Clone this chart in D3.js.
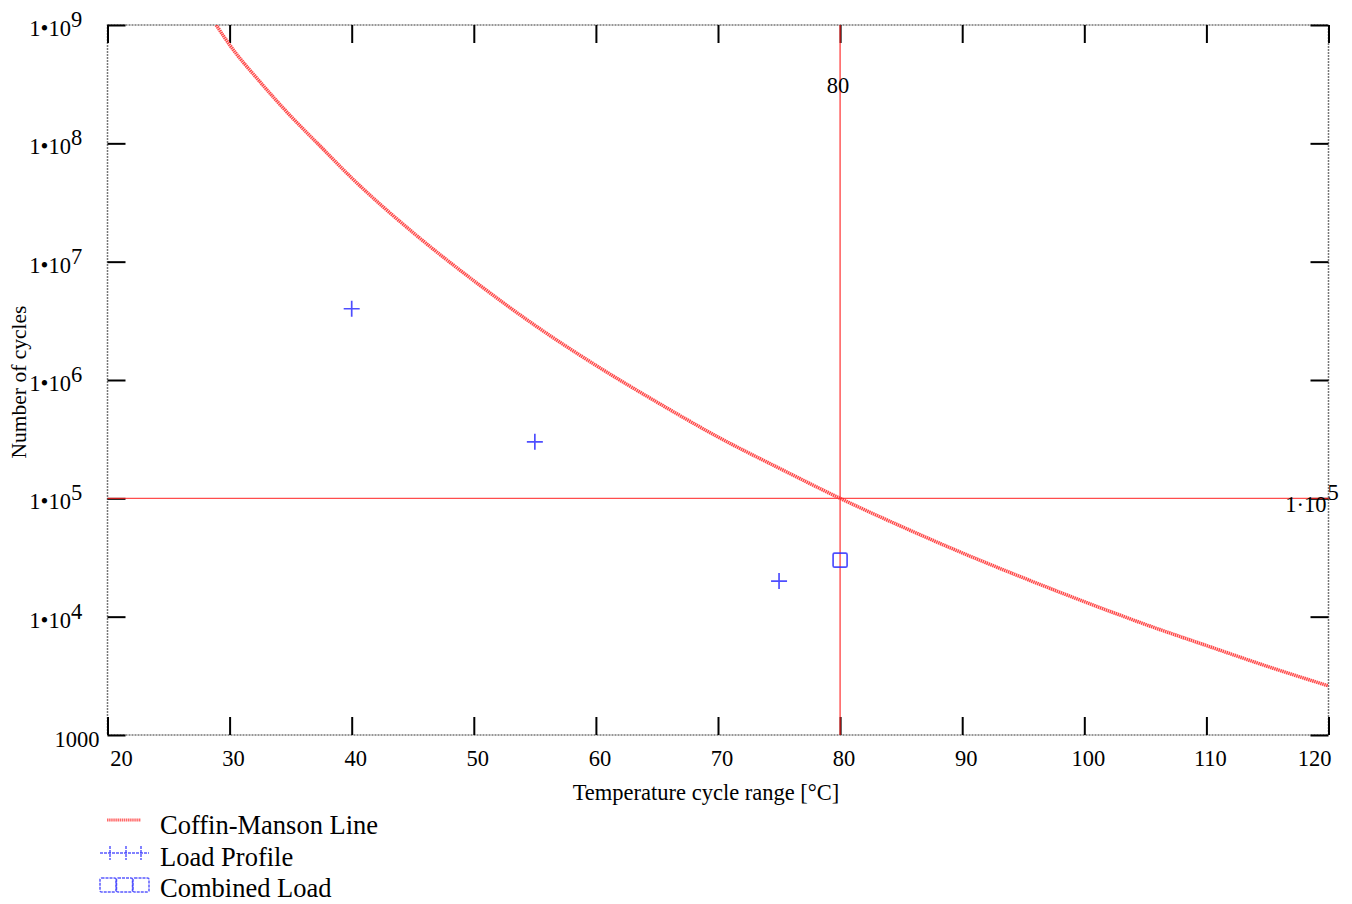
<!DOCTYPE html>
<html>
<head>
<meta charset="utf-8">
<script src="https://cdn.jsdelivr.net/npm/d3@7"></script>
<style>
  body { margin: 0; background: #fff; }
  svg { display: block; font-family: "Liberation Serif", "Times New Roman", serif; }
</style>
</head>
<body>
<svg id="chart"></svg>
<script>
// temperature range (°C) and cycles to failure
const curveTemp = [28.9, 30, 32.5, 35, 37.5, 40, 45, 50, 55, 60, 65, 70, 75, 80, 85, 90, 95, 100, 105, 110, 115, 120];
const curveCycles = [1e9, 6.8e8, 3.3e8, 1.7e8, 9.3e7, 5.1e7, 1.77e7, 6.9e6, 2.9e6, 1.33e6, 6.5e5, 3.3e5, 1.8e5, 1e5, 5.8e4, 3.46e4, 2.13e4, 1.34e4, 8.6e3, 5.7e3, 3.8e3, 2.6e3];

// load profile points
const loadTemp = [40, 55, 75];
const loadCycles = [4e6, 3e5, 2e4];

// combined load
const combinedTemp = [80];
const combinedCycles = [3e4];

// reference marker
const refTemp = 80;
const refCycles = 1e5;

const xTicks = [20, 30, 40, 50, 60, 70, 80, 90, 100, 110, 120];
const yTicks = [1e3, 1e4, 1e5, 1e6, 1e7, 1e8, 1e9];

const W = 1352, H = 904;
const margin = { top: 25, right: 23.5, bottom: 169, left: 107.5 };
const width = W - margin.left - margin.right;
const height = H - margin.top - margin.bottom;

const svg = d3.select('#chart').attr('width', W).attr('height', H);
const g = svg.append('g').attr('transform', `translate(${margin.left},${margin.top})`);

const x = d3.scaleLinear().domain([20, 120]).range([0, width]);
const y = d3.scaleLog().domain([1e3, 1e9]).range([height, 0]);

const red = '#ff2a2a';
const blue = '#2f2fff';
const fs = '22.5px';

// frame (dotted)
g.append('rect').attr('width', width).attr('height', height)
  .attr('fill', 'none').attr('stroke', '#777').attr('stroke-width', 1.5)
  .attr('stroke-dasharray', '2,1');

g.append('defs').append('clipPath').attr('id', 'clip')
  .append('rect').attr('width', width).attr('height', height);

// ticks (inward on all four sides)
const tickLen = 18;
g.append('g').call(d3.axisBottom(x).tickValues(xTicks).tickSize(tickLen).tickFormat(''))
  .attr('transform', `translate(0,${height - tickLen})`)
  .call(a => a.select('.domain').remove())
  .selectAll('line').attr('stroke', '#000').attr('stroke-width', 2);
g.append('g').call(d3.axisTop(x).tickValues(xTicks).tickSize(tickLen).tickFormat(''))
  .attr('transform', `translate(0,${tickLen})`)
  .call(a => a.select('.domain').remove())
  .selectAll('line').attr('stroke', '#000').attr('stroke-width', 2);
g.append('g').call(d3.axisRight(y).tickValues(yTicks).tickSize(tickLen).tickFormat(''))
  .call(a => a.select('.domain').remove())
  .selectAll('line').attr('stroke', '#000').attr('stroke-width', 2);
g.append('g').call(d3.axisLeft(y).tickValues(yTicks).tickSize(tickLen).tickFormat(''))
  .attr('transform', `translate(${width},0)`)
  .call(a => a.select('.domain').remove())
  .selectAll('line').attr('stroke', '#000').attr('stroke-width', 2);

// reference lines (drawn over ticks, slightly translucent)
g.append('line').attr('x1', x(refTemp)).attr('x2', x(refTemp)).attr('y1', 0).attr('y2', height)
  .attr('stroke', '#ff2020').attr('stroke-opacity', 0.8).attr('stroke-width', 1.4);
g.append('line').attr('x1', 0).attr('x2', width).attr('y1', y(refCycles)).attr('y2', y(refCycles))
  .attr('stroke', '#ff2020').attr('stroke-opacity', 0.8).attr('stroke-width', 1.4);

// x tick labels
g.selectAll('.xlab').data(xTicks).join('text').attr('class', 'xlab')
  .attr('x', (d, i) => i === 0 ? x(d) + 14 : i === xTicks.length - 1 ? x(d) - 14 : x(d) + 4)
  .attr('y', height + 31).attr('text-anchor', 'middle')
  .style('font-size', fs).text(d => d);

// y tick labels
yTicks.forEach(v => {
  const p = Math.round(Math.log10(v));
  if (p === 3) {
    g.append('text').attr('x', -8).attr('y', y(v) + 12).attr('text-anchor', 'end')
      .style('font-size', fs).text('1000');
  } else {
    g.append('text').attr('x', -36.5).attr('y', y(v) + 11).attr('text-anchor', 'end')
      .style('font-size', fs).text('1\u202210');
    g.append('text').attr('x', -36.5).attr('y', y(v) + 2).style('font-size', fs).text(p);
  }
});

// Coffin-Manson curve
const line = d3.line().x((d, i) => x(curveTemp[i])).y(d => y(d)).curve(d3.curveMonotoneX);
g.append('path').datum(curveCycles).attr('clip-path', 'url(#clip)')
  .attr('d', line).attr('fill', 'none').attr('stroke', red)
  .attr('stroke-width', 3.5).attr('stroke-opacity', 0.85)
  .attr('stroke-dasharray', '1.5,0.6');

// load profile crosses
const cs = 8;
g.selectAll('.lp').data(loadTemp).join('path').attr('class', 'lp')
  .attr('d', (d, i) => {
    const cx = x(d), cy = y(loadCycles[i]);
    return `M${cx - cs},${cy}H${cx + cs}M${cx},${cy - cs}V${cy + cs}`;
  })
  .attr('stroke', blue).attr('stroke-width', 1.7).attr('stroke-opacity', 0.85);

// combined load squares
g.selectAll('.cl').data(combinedTemp).join('rect').attr('class', 'cl')
  .attr('x', d => x(d) - 7).attr('y', (d, i) => y(combinedCycles[i]) - 7)
  .attr('width', 14).attr('height', 14).attr('rx', 1.5)
  .attr('fill', 'none').attr('stroke', blue).attr('stroke-width', 1.7).attr('stroke-opacity', 0.85);

// reference labels
g.append('text').attr('x', x(refTemp) - 2).attr('y', 68).attr('text-anchor', 'middle')
  .style('font-size', fs).text(refTemp);
g.append('text').attr('x', width - 2).attr('y', y(refCycles) + 14).attr('text-anchor', 'end')
  .style('font-size', fs).text('1\u00b710');
g.append('text').attr('x', width - 1).attr('y', y(refCycles) + 2)
  .style('font-size', fs).text('5');

// axis titles
svg.append('text').attr('transform', 'translate(26,382) rotate(-90)')
  .attr('text-anchor', 'middle').style('font-size', '21.5px').text('Number of cycles');
svg.append('text').attr('x', 706).attr('y', 800)
  .attr('text-anchor', 'middle').style('font-size', fs).text('Temperature cycle range [°C]');

// legend
const legend = svg.append('g');
legend.append('line').attr('x1', 107).attr('x2', 141).attr('y1', 820).attr('y2', 820)
  .attr('stroke', red).attr('stroke-width', 3).attr('stroke-opacity', 0.7).attr('stroke-dasharray', '1.5,0.6');
legend.append('text').attr('x', 160).attr('y', 834).style('font-size', '26.5px').text('Coffin-Manson Line');

const lp = legend.append('g').attr('transform', 'translate(0,853)');
lp.append('line').attr('x1', 100).attr('x2', 149).attr('y1', 0).attr('y2', 0)
  .attr('stroke', blue).attr('stroke-width', 1.5).attr('stroke-opacity', 0.8).attr('stroke-dasharray', '3,1');
[110, 126, 141].forEach(cx => lp.append('line').attr('x1', cx).attr('x2', cx).attr('y1', -7).attr('y2', 7)
  .attr('stroke', blue).attr('stroke-width', 1.5).attr('stroke-opacity', 0.8).attr('stroke-dasharray', '3,1'));
legend.append('text').attr('x', 160).attr('y', 866).style('font-size', '26.5px').text('Load Profile');

const clg = legend.append('g').attr('transform', 'translate(0,885)');
[100, 116.5, 133].forEach(cx => clg.append('rect').attr('x', cx).attr('y', -7).attr('width', 16).attr('height', 14)
  .attr('rx', 1.5).attr('fill', 'none').attr('stroke', blue).attr('stroke-width', 1.5)
  .attr('stroke-opacity', 0.8).attr('stroke-dasharray', '3,1'));
legend.append('text').attr('x', 160).attr('y', 897).style('font-size', '26.5px').text('Combined Load');
</script>
</body>
</html>
